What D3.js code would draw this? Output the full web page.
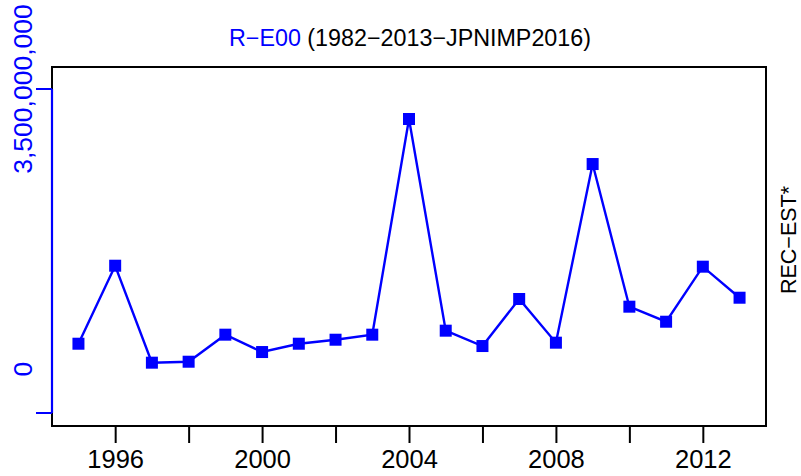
<!DOCTYPE html>
<html><head><meta charset="utf-8">
<script src="https://cdn.jsdelivr.net/npm/d3@7"></script>
<style>body{margin:0;background:#fff}svg{display:block;font-family:"Liberation Sans",Arial,sans-serif}</style>
</head><body>
<script>
const years = [1995,1996,1997,1998,1999,2000,2001,2002,2003,2004,2005,2006,2007,2008,2009,2010,2011,2012,2013];
const values = [316e6,1291e6,79e6,91e6,429e6,212e6,316e6,366e6,429e6,3125e6,479e6,287e6,875e6,329e6,2562e6,779e6,591e6,1279e6,891e6];
const xTicks = [1996,1998,2000,2002,2004,2006,2008,2010,2012];
const xTickLabels = ["1996","","2000","","2004","","2008","","2012"];
const yAxisEnds = [-550e6, 3500e6];
const yLabelValues = [0, 3500e6];
const yLabels = ["0","3,500,000,000"];
const titleMain = "R\u2212E00";
const titleSub = " (1982\u22122013\u2212JPNIMP2016)";
const rightLabel = "REC\u2212EST*";

const W = 801, H = 476;
const L = 52, R = 766, T = 67, B = 426;
const svg = d3.select("body").append("svg").attr("width", W).attr("height", H);

const x = d3.scaleLinear().domain([1994.28, 2013.72]).range([L, R]);
const y = d3.scaleLinear().domain([-712.5e6, 3775e6]).range([B, T]);

// box
svg.append("rect").attr("x", L).attr("y", T).attr("width", R - L).attr("height", B - T)
  .attr("fill", "none").attr("stroke", "#000").attr("stroke-width", 2);

// x axis
const xa = svg.append("g").attr("transform", `translate(0,${B})`)
  .call(d3.axisBottom(x).tickValues(xTicks).tickSize(17).tickPadding(7)
    .tickFormat((d, i) => xTickLabels[i]));
xa.select(".domain").remove();
xa.selectAll(".tick line").attr("stroke", "#000").attr("stroke-width", 2);
xa.selectAll(".tick text").attr("fill", "#000").attr("font-size", 25.5).attr("font-family", "Liberation Sans, Arial, sans-serif");

// y axis (blue)
const yg = svg.append("g");
yg.append("line").attr("x1", L).attr("x2", L).attr("y1", y(yAxisEnds[0])).attr("y2", y(yAxisEnds[1]))
  .attr("stroke", "#0000ff").attr("stroke-width", 2.2);
yg.selectAll(".yt").data(yAxisEnds).join("line")
  .attr("x1", L - 16).attr("x2", L).attr("y1", d => y(d)).attr("y2", d => y(d))
  .attr("stroke", "#0000ff").attr("stroke-width", 2);
yg.selectAll(".yl").data(yLabelValues).join("text")
  .attr("transform", d => `translate(32,${y(d)}) rotate(-90)`)
  .attr("text-anchor", "middle").attr("fill", "#0000ff").attr("font-size", 26.5)
  .text((d, i) => yLabels[i]);

// line
const line = d3.line().x((d, i) => x(years[i])).y(d => y(d));
svg.append("path").datum(values).attr("d", line).attr("fill", "none")
  .attr("stroke", "#0000ff").attr("stroke-width", 2.4);
svg.selectAll(".pt").data(values).join("rect")
  .attr("x", (d, i) => x(years[i]) - 6).attr("y", d => y(d) - 6)
  .attr("width", 12).attr("height", 12).attr("fill", "#0000ff");

// title
const t = svg.append("text").attr("x", 410).attr("y", 46).attr("text-anchor", "middle").attr("font-size", 23.3);
t.append("tspan").attr("fill", "#0000ff").text(titleMain);
t.append("tspan").attr("fill", "#000").text(titleSub);

// right label
svg.append("text").attr("transform", `translate(796,240) rotate(-90)`).attr("text-anchor", "middle")
  .attr("font-size", 21.5).attr("fill", "#000").text(rightLabel);
</script>
</body></html>
